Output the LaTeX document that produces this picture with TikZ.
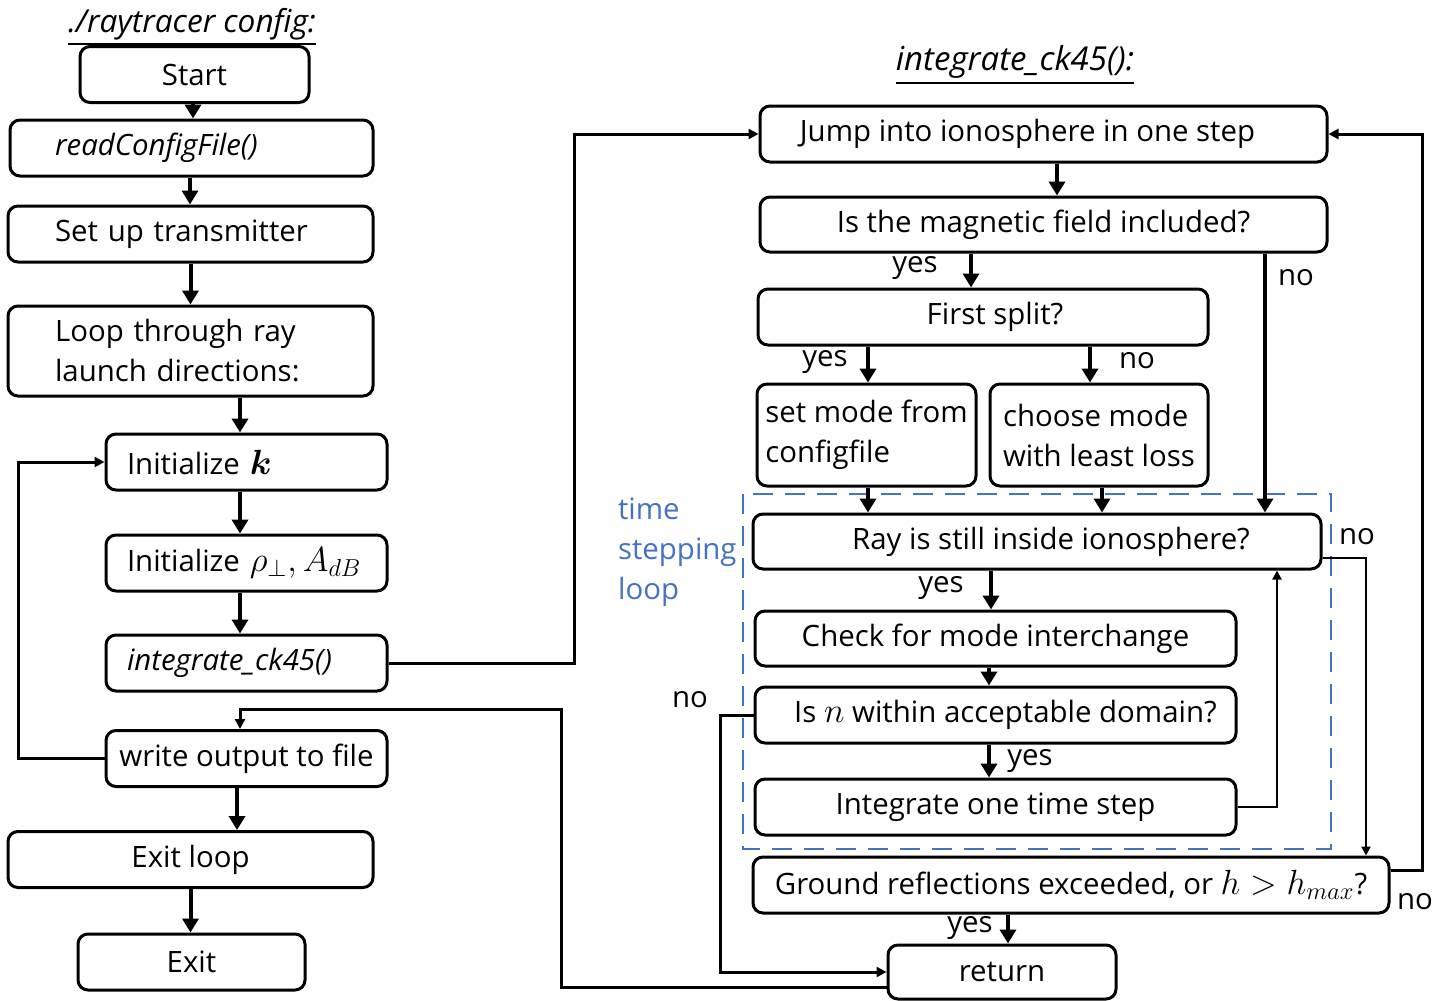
\documentclass[tikz,border=0pt]{standalone}
\usepackage{fix-cm}
\usepackage{amsmath}
\usepackage{fontspec}
\setmainfont{Open Sans}
\usepackage{bm}
\usetikzlibrary{arrows.meta}

\definecolor{loopblue}{HTML}{4472C4}
\newcommand{\mx}[1]{{\fontsize{17.5pt}{20pt}\selectfont$#1$}}

\tikzset{
  box/.style={draw, line width=1.5pt, rounded corners=5pt, minimum height=28pt, inner sep=3pt},
  lbox/.style={box, align=left},
  arr/.style={line width=2pt, -{Triangle[length=7pt,width=8pt]}},
  link/.style={line width=1.5pt, -{Triangle[length=5pt,width=5pt]}},
  thinlink/.style={line width=1pt, -{Triangle[length=4.5pt,width=4.5pt]}},
  lbl/.style={inner sep=0pt},
  heading/.style={inner sep=0pt, font=\fontsize{16.5pt}{20pt}\selectfont},
  loopframe/.style={draw=loopblue, line width=1.4pt, dash pattern=on 10pt off 6pt}
}

\begin{document}
\begin{tikzpicture}[x=0.5pt, y=-0.5pt, font=\fontsize{14.7pt}{20pt}\selectfont]
	\useasboundingbox (0,0) rectangle (1448,1001);

	\draw[loopframe] (743,494) rectangle (1331,849);
	\node[align=left, text=loopblue, anchor=west] at (611,552) {time\\stepping\\loop};

	\node[heading, font=\fontsize{15.8pt}{20pt}\selectfont] at (192,27) {\underline{\textit{./raytracer config:}}};
	\node[box, minimum width=114.5pt] (start) at (194.5,74.5) {Start};
	\node[lbox, text width=136.5pt, inner xsep=22.5pt] (readcfg) at (191.5,148) {\textit{readConfigFile()}};
	\node[lbox, text width=135.5pt, inner xsep=23.5pt] (setup) at (190.5,234) {Set up transmitter};
	\node[lbox, text width=135.5pt, inner xsep=23.5pt, minimum height=45pt] (loop) at (190.5,351) {Loop through ray\\launch directions:};
	\node[lbox, text width=119.5pt, inner xsep=10.5pt] (initk) at (246.5,462) {Initialize \mx{\bm{k}}};
	\node[lbox, text width=119.5pt, inner xsep=10.5pt] (initrho) at (246.5,563) {Initialize \mx{\rho_\perp, A_{dB}}};
	\node[lbox, text width=119.5pt, inner xsep=10.5pt] (integ) at (246.5,663) {\textit{integrate\_ck45()}};
	\node[box, minimum width=140.5pt] (write) at (246.5,758.5) {write output to file};
	\node[box, minimum width=182.5pt] (exitloop) at (190.5,859.5) {Exit loop};
	\node[box, minimum width=113.5pt] (exit) at (191.5,962) {Exit};

	\node[heading] at (1015,65) {\underline{\textit{integrate\_ck45():}}};
	\node[box, minimum width=283.5pt] (jump) at (1043.5,134) {Jump into ionosphere in one step\hspace*{16pt}};
	\node[box, minimum width=283.5pt, minimum height=27.5pt] (mag) at (1043.5,224.5) {Is the magnetic field included?};
	\node[box, minimum width=225pt] (first) at (983,317) {\hspace*{12pt}First split?};
	\node[box, align=left, minimum width=109.5pt, minimum height=51pt] (setmode) at (866.5,435) {set mode from\\configfile};
	\node[box, align=left, minimum width=109pt, minimum height=51pt] (choose) at (1099,435) {choose mode\\with least loss};
	\node[box, minimum width=284pt, minimum height=27.5pt] (ray) at (1037,541.5) {\hspace*{14pt}Ray is still inside ionosphere?};
	\node[box, minimum width=240.5pt, minimum height=27.5pt] (check) at (995.5,638.5) {Check for mode interchange};
	\node[box, minimum width=240.5pt] (isn) at (995.5,715) {\hspace*{10pt}Is \mx{n} within acceptable domain?};
	\node[box, minimum width=240.5pt] (integ1) at (995.5,807) {Integrate one time step};
	\node[box, minimum width=318pt] (ground) at (1071,885) {Ground reflections exceeded, or \mx{h > h_{max}}?};
	\node[box, minimum width=114pt, minimum height=27pt] (ret) at (1002,972) {return};

	\draw[arr] ([xshift=-0.75pt]start.south) -- ([xshift=0.75pt]readcfg.north);
	\draw[arr] ([xshift=-0.75pt]readcfg.south) -- ([xshift=-0.25pt]setup.north);
	\draw[arr] (setup.south) -- (loop.north);
	\draw[arr] ([xshift=24.75pt]loop.south) -- ([xshift=-3.25pt]initk.north);
	\draw[arr] ([xshift=-3.25pt]initk.south) -- ([xshift=-3.25pt]initrho.north);
	\draw[arr] ([xshift=-3.25pt]initrho.south) -- ([xshift=-3.25pt]integ.north);
	\draw[arr] ([xshift=-4.75pt]write.south) -- ([xshift=23.25pt]exitloop.north);
	\draw[arr] (exitloop.south) -- (exitloop.south |- exit.north);
	\draw[link] (write.west) -- ++(-86,0) |- (initk.west);
	\draw[link] (integ.east) -- ++(186,0) |- (jump.west);
	\draw[link] ([yshift=-7.5pt]ret.west) -- ++(-325,0) -- ++(0,-278) -| ([xshift=-3.25pt]write.north);

	\draw[arr] ([xshift=6.75pt]jump.south) -- ([xshift=6.75pt]mag.north);
	\draw[arr] ([xshift=-36.25pt]mag.south) -- ([xshift=-6pt]first.north);
	\draw[arr] ([xshift=110.75pt]mag.south) -- ([xshift=114pt]ray.north);
	\draw[arr] ([xshift=-57.5pt]first.south) -- ([xshift=0.75pt]setmode.north);
	\draw[arr] ([xshift=53.5pt]first.south) -- ([xshift=-4.5pt]choose.north);
	\draw[arr] ([xshift=0.75pt]setmode.south) -- ([xshift=-84.5pt]ray.north);
	\draw[arr] ([xshift=1.5pt]choose.south) -- ([xshift=32.5pt]ray.north);
	\draw[arr] ([xshift=-23pt]ray.south) -- ([xshift=-2.25pt]check.north);
	\draw[arr] ([xshift=-3.25pt]check.south) -- ([xshift=-3.25pt]isn.north);
	\draw[arr] ([xshift=-3.25pt]isn.south) -- ([xshift=-3.25pt]integ1.north);
	\draw[arr] ([xshift=-31.5pt]ground.south) -- ([xshift=3pt]ret.north);
	\draw[thinlink] (integ1.east) -| ([xshift=120pt]ray.south);
	\draw[thinlink] ([yshift=-8.25pt]ray.east) -| ([xshift=147.5pt]ground.north);
	\draw[link] ([yshift=7.5pt]ground.east) -- ++(32,0) |- (jump.east);
	\draw[link] (isn.west) -- ++(-33,0) |- (ret.west);

	\node[lbl] at (915,268) {yes};
	\node[lbl] at (1296,278) {no};
	\node[lbl] at (825,362) {yes};
	\node[lbl] at (1137,361) {no};
	\node[lbl] at (941,588) {yes};
	\node[lbl] at (1357,537) {no};
	\node[lbl] at (690,700) {no};
	\node[lbl] at (1030,761) {yes};
	\node[lbl] at (970,928) {yes};
	\node[lbl] at (1415,902) {no};
\end{tikzpicture}
\end{document}
